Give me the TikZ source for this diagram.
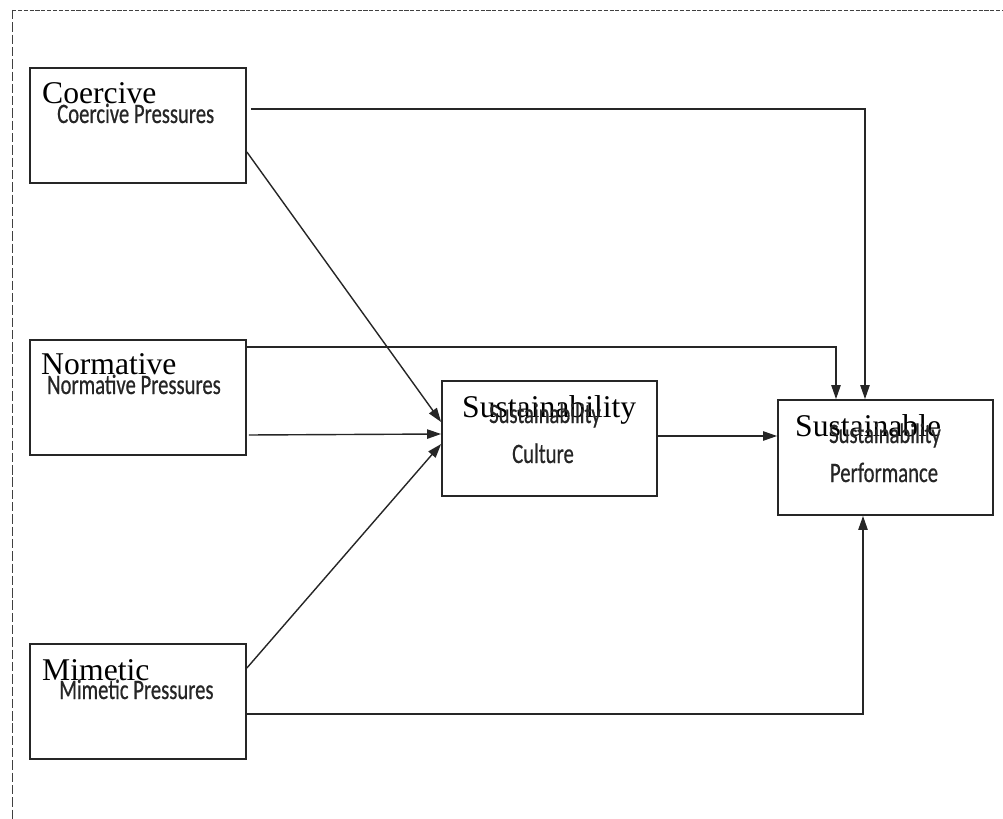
\documentclass[tikz,border=0pt]{standalone}
\usepackage{fontspec}
\setmainfont{Liberation Serif}
\newfontfamily\condfont[FakeStretch=0.735,FakeBold=0.6]{Carlito}
\usepackage{tikz}
\usepackage{xcolor}
\usetikzlibrary{arrows.meta}

\tikzset{
  box/.style={draw=black!85, line width=1.5pt, minimum width=216*0.03cm, minimum height=115*0.03cm},
  bigtxt/.style={font=\fontsize{27}{30}\selectfont, text=black, anchor=base west},
  smalltxt/.style={font=\condfont\fontsize{24}{28}\selectfont, text=black!85},
  conn/.style={draw=black!85, line width=1.2pt, -{Triangle[length=12pt,width=8pt]}},
}

\begin{document}
\begin{tikzpicture}[x=0.03cm, y=-0.03cm]
            \tikzstyle{every node}+=[inner sep=0pt]
            \useasboundingbox (0,0) rectangle (1003,819);
            % outer frame, top and left only
            \coordinate (frame) at (12,10);
            \draw [black!75, line width=0.8pt, dash pattern=on 3.5pt off 1.5pt] (frame) -- (1003,10);
            \draw [black!75, line width=0.8pt, dash pattern=on 8pt off 2.5pt] (frame) -- (12,819);
            % the five boxes
            \node [box] (coercive) at (138,125.5) {};
            \node [box] (normative) at (138,397.5) {};
            \node [box] (mimetic) at (138,701.5) {};
            \node [box, minimum width=215*0.03cm] (culture) at (549.5,438.5) {};
            \node [box, minimum width=215*0.03cm] (perform) at (885.5,457.5) {};
            % texts
            \node [bigtxt] (coercivetop) at (42,104) {Coercive};
            \node [smalltxt, anchor=base west] (coercivelbl) at (57,123) {Coercive Pressures};
            \node [bigtxt] (normativetop) at (41,374) {Normative};
            \node [smalltxt, anchor=base west] (normativelbl) at (47,394) {Normative Pressures};
            \node [bigtxt] (mimetictop) at (42,680) {Mimetic};
            \node [smalltxt, anchor=base west] (mimeticlbl) at (59,699) {Mimetic Pressures};
            \node [bigtxt] (culturetop) at (462,417) {Sustainability};
            \node [smalltxt, anchor=base] (culturelbla) at (545,423) {Sustainability};
            \node [smalltxt, anchor=base] (culturelblb) at (543,463) {Culture};
            \node [bigtxt] (performtop) at (795,436) {Sustainable};
            \node [smalltxt, anchor=base] (performlbla) at (885,443) {Sustainability};
            \node [smalltxt, anchor=base] (performlblb) at (884,482) {Performance};
            % connectors
            \draw [conn] ([shift={(4,-16.5)}]coercive.east) -| ([shift={(-20.5,0)}]perform.north);
            \draw [conn] ([shift={(0,26.5)}]coercive.east) -- ([shift={(0,-16.5)}]culture.west);
            \draw [conn] ([shift={(0,-50.5)}]normative.east) -| ([shift={(-49.5,0)}]perform.north);
            \draw [conn] ([shift={(2,37.5)}]normative.east) -- ([shift={(0,-4.5)}]culture.west);
            \draw [conn] ([shift={(0,-33.5)}]mimetic.east) -- ([shift={(0,5.5)}]culture.west);
            \draw [conn] ([shift={(0,12.5)}]mimetic.east) -| ([shift={(-22.5,0)}]perform.south);
            \draw [conn] ([shift={(0,-2.5)}]culture.east) -- ([shift={(0,-21.5)}]perform.west);
        \end{tikzpicture}
\end{document}
